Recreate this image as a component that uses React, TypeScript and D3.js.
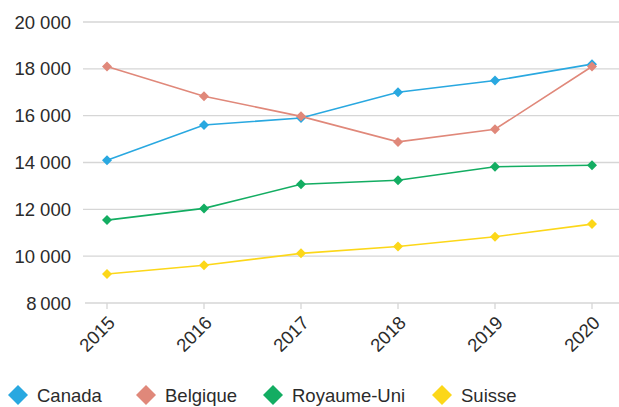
import React from "react";
import * as d3 from "d3";

const years = ["2015", "2016", "2017", "2018", "2019", "2020"];
const canada = [14100, 15600, 15900, 17000, 17500, 18200];
const belgique = [18100, 16830, 15970, 14880, 15420, 18100];
const royaumeUni = [11540, 12040, 13070, 13240, 13820, 13880];
const suisse = [9240, 9610, 10120, 10410, 10830, 11370];
const yTicks = [8000, 10000, 12000, 14000, 16000, 18000, 20000];
const seriesNames = ["Canada", "Belgique", "Royaume-Uni", "Suisse"];
const seriesColors = ["#29a8e0", "#e0887a", "#13ad62", "#fcd719"];
const legendX = [18, 146, 273, 442];

const W = 619;
const H = 407;
const FONT = "'Liberation Sans', Arial, Helvetica, sans-serif";
const FS = 18.5;

const fmt = (v: number) => {
  const s = String(v);
  return v >= 10000 ? s.slice(0, s.length - 3) + " " + s.slice(-3) : s.slice(0, 1) + "\u2009" + s.slice(1);
};

export default function App() {
  const data = [canada, belgique, royaumeUni, suisse];
  const x = d3.scalePoint<string>().domain(years).range([107, 592]);
  const y = d3.scaleLinear().domain([8000, 20000]).range([303, 22]);
  const line = d3
    .line<number>()
    .x((_, i) => x(years[i]) as number)
    .y((d) => y(d));
  const diamond = (cx: number, cy: number, r: number) =>
    `M${cx},${cy - r}L${cx + r},${cy}L${cx},${cy + r}L${cx - r},${cy}Z`;

  return (
    <svg width={W} height={H} style={{ position: "absolute", left: 0, top: 0, background: "#fff" }} fontFamily={FONT}>
      {yTicks.map((t) => (
        <g key={t}>
          <line x1={t === 8000 ? 85 : 83} x2={W} y1={y(t)} y2={y(t)} stroke="#d6d6d6" strokeWidth={1.3} />
          <text x={71} y={y(t)} dy="0.36em" textAnchor="end" fontSize={FS} fill="#2b2b2b">
            {fmt(t)}
          </text>
        </g>
      ))}
      {years.map((yr) => (
        <g key={yr}>
          <line x1={x(yr)} x2={x(yr)} y1={y(8000)} y2={y(8000) + 6} stroke="#d6d6d6" strokeWidth={1.3} />
          <text
            transform={`translate(${(x(yr) as number) + 9},${y(8000) + 21}) rotate(-45)`}
            textAnchor="end"
            fontSize={FS}
            fill="#2b2b2b"
          >
            {yr}
          </text>
        </g>
      ))}
      {data.map((vals, si) => (
        <g key={si}>
          <path d={line(vals) || ""} fill="none" stroke={seriesColors[si]} strokeWidth={1.6} />
          {vals.map((v, i) => (
            <path key={i} d={diamond(x(years[i]) as number, y(v), 5)} fill={seriesColors[si]} />
          ))}
        </g>
      ))}
      {seriesNames.map((n, i) => (
        <g key={n}>
          <path d={diamond(legendX[i], 395, 10)} fill={seriesColors[i]} />
          <text x={legendX[i] + 19} y={395} dy="0.36em" fontSize={FS} fill="#2b2b2b">
            {n}
          </text>
        </g>
      ))}
    </svg>
  );
}
